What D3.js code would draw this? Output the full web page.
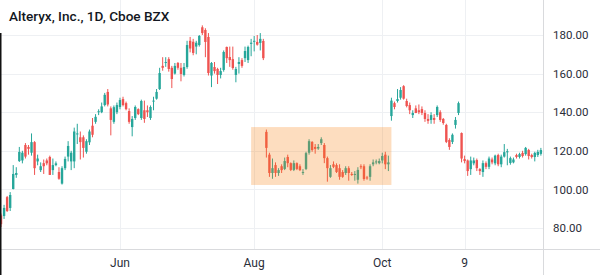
<!DOCTYPE html>
<html>
<head>
<meta charset="utf-8">
<script src="https://cdn.jsdelivr.net/npm/d3@7"></script>
<style>
  html, body { margin: 0; padding: 0; background: #fff; }
  svg { display: block; }
</style>
</head>
<body>
<svg id="chart" width="600" height="275"></svg>
<script>
// daily candles, Alteryx 2020
const startDay = "2020-04-03";
const holidays = ["2020-04-10", "2020-05-25", "2020-07-03", "2020-09-07", "2020-11-26"];

const open = [
  86.5, 86.2, 96, 90.4, 100.2, 107.5, 114.7, 115, 123, 122,
  119, 124.5, 114.5, 110, 113.6, 115, 116.8, 110, 112.6, 109,
  103, 111, 117, 114.5, 114.5, 128.5, 127, 127, 119.5, 124.4,
  133, 135, 140, 140, 143.7, 150.5, 142, 135, 140, 142.7,
  146.8, 144.7, 140.6, 132.3, 137, 141.6, 137, 141, 141, 137,
  145.5, 147, 152, 164, 165.5, 167.5, 163, 160, 165.5, 163,
  159.3, 163.4, 177, 176.5, 174, 174.8, 184, 182.6, 179, 159,
  163.4, 162.4, 159.3, 161.9, 173.8, 168.6, 167.5, 159.3, 165, 167,
  168, 167, 175.4, 176.5, 176.4, 175.9, 176.9, 129.8, 118, 108.5,
  112.6, 108.5, 112, 110.6, 116.8, 113.6, 110.1, 113.6, 112, 108.5,
  110.6, 119, 124.6, 122, 121.2, 124, 123, 116.2, 106.5, 113,
  112.6, 111, 109, 108.5, 111, 108, 107.5, 105, 112, 112,
  106.2, 106.5, 113, 114, 113.6, 115, 118, 113, 138, 144.7,
  145.8, 147.5, 153.5, 145.8, 143.7, 138.5, 142, 141, 141.6, 139.6,
  136.5, 136, 137, 138.5, 140, 136.5, 133.4, 125.6, 124.6, 133.4,
  139.6, 129.2, 115.7, 115, 110.5, 113.5, 115.2, 110.5, 109, 113.6,
  111.7, 115.5, 113.5, 117.8, 113, 117, 119.2, 113.7, 114, 117.8,
  116.8, 118.9, 118.3, 120.4, 117.8, 116.8, 117.8, 118.4
];
const high = [
  87.5, 92, 96.6, 98.6, 112.6, 111.5, 122, 120, 124, 123,
  129, 125, 118, 114, 115.5, 116, 117.5, 116, 114.5, 111.5,
  112, 117, 125, 120, 132, 134, 130, 128, 126, 131,
  137, 139, 141.5, 145, 150, 152, 143, 143.5, 145, 147.5,
  148, 145.5, 142, 138, 143.5, 142, 146.5, 146, 143.5, 143.5,
  148, 152, 163, 168.5, 168.5, 168.5, 164, 165.5, 166, 165.5,
  165.5, 177, 179, 178, 177, 180, 185, 183.5, 181, 166,
  166, 163, 163, 172, 174, 174, 174, 163.5, 168.5, 168,
  174, 174.5, 178, 179.5, 180, 181, 178, 131, 119, 116,
  114, 111, 113, 116.5, 118, 114, 115, 114, 113, 110.5,
  119.5, 126, 125, 123.5, 123.5, 127, 124, 117, 112.6, 114.5,
  113.5, 113, 110, 112, 112, 109, 109.5, 111.5, 113, 113,
  107, 113, 115.5, 115.5, 116, 119, 119.5, 117.5, 147.5, 145.5,
  152, 153, 154, 147, 145, 141, 143.5, 144, 143, 141,
  139, 140, 139, 143.5, 141, 137, 134, 126.5, 129, 137.5,
  145.5, 129.5, 117.5, 115.5, 117, 116.5, 116, 111, 115, 114.5,
  117, 116.5, 118, 118.5, 118, 123.5, 121, 117, 116.5, 118.5,
  119, 120, 122, 121, 118.5, 119.5, 120.5, 121.5
];
const low = [
  80.5, 84.7, 88.3, 88.8, 100, 106, 114.2, 113.5, 116, 118,
  117.5, 107.5, 112.5, 109, 108, 112.5, 107.5, 107.5, 112, 105,
  102.5, 110, 114.5, 110, 111, 123.5, 115.5, 116.5, 118.5, 123,
  127, 134, 138.5, 139.5, 143, 143, 128, 134, 139, 141.5,
  143, 141, 134, 127.5, 136, 138.5, 136, 134.5, 137.5, 136,
  141, 146.5, 151.5, 161.5, 163.5, 161, 152.5, 159.5, 162, 156,
  158.5, 162.5, 171, 169.5, 170, 174, 180, 168.5, 159, 153,
  160, 154.6, 157.5, 161, 165.5, 163.5, 162, 155.5, 160, 163,
  166, 165.5, 169, 171.5, 174.5, 172, 167, 116.5, 106.5, 105.5,
  106.5, 107, 108.5, 110, 111.5, 109.5, 109.5, 110, 109.5, 107.5,
  110, 118, 119.5, 118.5, 120.5, 123, 113.6, 104, 106, 111,
  108.5, 105, 106, 107.5, 104.5, 107, 104.5, 103, 110.5, 104.5,
  105, 104.5, 112, 113, 113, 113.5, 110.5, 109.5, 135.6, 141.5,
  145, 146.5, 146.5, 142.5, 139, 137, 139.5, 139, 138.5, 135,
  134, 134, 134, 137.5, 135, 133.5, 124, 120.5, 123.5, 131.5,
  138.5, 114, 113.5, 107, 107.5, 112.5, 109.5, 107.5, 106.5, 110.5,
  110.5, 113, 112.5, 112, 111.5, 116.5, 112.5, 112.8, 113.5, 116,
  116, 116.5, 117.5, 115.5, 116, 114.5, 116.8, 117.5
];
const close = [
  82, 90.4, 88.8, 97.1, 108, 108.5, 119.4, 119, 117, 121,
  124.5, 111, 116, 112, 112, 113.5, 107.5, 112.6, 113.5, 105.5,
  111, 115.8, 122.5, 119, 130, 129, 124.5, 121.5, 125, 130,
  128.3, 137.6, 140.5, 143, 149, 144, 136, 142.6, 143.7, 146.3,
  143.7, 141.6, 135, 136.5, 142.7, 139, 145.8, 136.5, 140, 142.7,
  146, 150.5, 160.3, 163, 166, 162.4, 157.2, 164, 163, 159.8,
  163.4, 174.8, 173, 170.7, 176, 179.5, 181, 176.4, 160.3, 165.5,
  161.3, 159.3, 161.3, 171.2, 168, 167, 162.9, 162.4, 166, 164,
  171.7, 173.8, 176, 177, 175, 178, 168, 121.5, 108.5, 111,
  108.5, 110, 110, 114.7, 113.6, 110.1, 113.6, 110.6, 110, 109,
  118.8, 125, 120.4, 121, 122, 126, 116.2, 111, 111, 111.7,
  109, 106.5, 106.5, 111, 108.5, 107.5, 108, 110.1, 111.5, 105.4,
  105.8, 112, 114, 114.5, 114.7, 117.3, 113, 114, 146, 142.7,
  146.8, 151.5, 147, 143.2, 141, 139.6, 139.6, 140, 139.6, 136.5,
  135.5, 138.5, 136, 142.7, 136, 134.4, 124.6, 122, 128.3, 136,
  144.7, 116, 114.7, 109.5, 115, 115, 111, 109.5, 113.6, 111.7,
  116, 114, 117.5, 113, 117, 119.3, 119.8, 116.2, 115.5, 116.8,
  118.3, 117.3, 121.5, 117.3, 116.8, 118.9, 119.4, 120.4
];

const yTicks = [80, 100, 120, 140, 160, 180];
const xTickDates = ["2020-06-01", "2020-08-03", "2020-10-01", "2020-11-09"];
const xTickLabels = ["Jun", "Aug", "Oct", "9"];

// shaded range (consolidation box)
const boxFrom = "2020-07-31", boxTo = "2020-10-06";
const boxTop = 132.3, boxBottom = 102.3;

// build trading days for the candle count
const fmt = d3.utcFormat("%Y-%m-%d");
let days = [];
let d = new Date(startDay + "T00:00:00Z");
while (days.length < open.length) {
  const wd = d.getUTCDay();
  const s = fmt(d);
  if (wd !== 0 && wd !== 6 && !holidays.includes(s)) days.push(s);
  d = d3.utcDay.offset(d, 1);
}
const candles = days.map((day, i) => ({
  day: day, o: open[i], h: high[i], l: low[i], c: close[i]
}));

const W = 600, H = 275;
const plotRight = 543, plotBottom = 249;
const up = "#26a69a", down = "#ef5350";

const svg = d3.select("#chart");
svg.append("rect").attr("width", W).attr("height", H).attr("fill", "#fff");

const x = d3.scaleBand().domain(days).range([-0.5, -0.5 + days.length * 3.05]).padding(0);
const y = d3.scaleLinear().domain([80, 180]).range([228, 35]);
const cx = (day) => x(day) + x.bandwidth() / 2;

// grid
svg.append("g").selectAll("line").data(yTicks).enter().append("line")
  .attr("x1", 0).attr("x2", plotRight)
  .attr("y1", (v) => Math.round(y(v)) + 0.5).attr("y2", (v) => Math.round(y(v)) + 0.5)
  .attr("stroke", "#eef0f3");
svg.append("g").selectAll("line").data(xTickDates).enter().append("line")
  .attr("x1", (v) => Math.round(cx(v)) + 0.5).attr("x2", (v) => Math.round(cx(v)) + 0.5)
  .attr("y1", 0).attr("y2", plotBottom)
  .attr("stroke", "#eef0f3");

// axes lines
svg.append("line").attr("x1", 0).attr("x2", W)
  .attr("y1", plotBottom + 0.5).attr("y2", plotBottom + 0.5).attr("stroke", "#d9dadd");
svg.append("line").attr("x1", plotRight + 0.5).attr("x2", plotRight + 0.5)
  .attr("y1", 0).attr("y2", H).attr("stroke", "#d9dadd");

// candles
const bodyW = x.bandwidth() * 0.78;
const g = svg.append("g");
g.selectAll("line.wick").data(candles).enter().append("line")
  .attr("class", "wick")
  .attr("x1", (c) => cx(c.day)).attr("x2", (c) => cx(c.day))
  .attr("y1", (c) => y(c.h)).attr("y2", (c) => y(c.l))
  .attr("stroke", (c) => (c.c >= c.o ? up : down))
  .attr("stroke-width", 1);
g.selectAll("rect.body").data(candles).enter().append("rect")
  .attr("class", "body")
  .attr("x", (c) => cx(c.day) - bodyW / 2)
  .attr("width", bodyW)
  .attr("y", (c) => y(Math.max(c.o, c.c)))
  .attr("height", (c) => Math.max(1, Math.abs(y(c.o) - y(c.c))))
  .attr("fill", (c) => (c.c >= c.o ? up : down));

// highlight box
svg.append("rect")
  .attr("x", cx(boxFrom))
  .attr("width", cx(boxTo) - cx(boxFrom))
  .attr("y", y(boxTop))
  .attr("height", y(boxBottom) - y(boxTop))
  .attr("fill", "rgb(247,128,20)")
  .attr("fill-opacity", 0.27);

// price labels
svg.append("g").selectAll("text").data(yTicks).enter().append("text")
  .attr("x", 553).attr("y", (v) => y(v))
  .attr("dy", "0.36em")
  .attr("font-family", "Roboto, 'Liberation Sans', sans-serif")
  .attr("font-size", 11.5)
  .attr("fill", "#2a2e39")
  .text((v) => v.toFixed(2));

// time labels
svg.append("g").selectAll("text").data(xTickDates).enter().append("text")
  .attr("x", (v) => cx(v)).attr("y", 267)
  .attr("text-anchor", "middle")
  .attr("font-family", "Roboto, 'Liberation Sans', sans-serif")
  .attr("font-size", 12)
  .attr("fill", "#2a2e39")
  .text((v, i) => xTickLabels[i]);

// title
svg.append("text")
  .attr("x", 9).attr("y", 20.5)
  .attr("font-family", "Roboto, 'Liberation Sans', sans-serif")
  .attr("font-size", 13.6)
  .attr("font-weight", 500)
  .attr("fill", "#131722")
  .text("Alteryx, Inc., 1D, Cboe BZX");

// dark left edge
svg.append("rect").attr("x", 0).attr("y", 33).attr("width", 1.5).attr("height", H - 33).attr("fill", "#111");
</script>
</body>
</html>
